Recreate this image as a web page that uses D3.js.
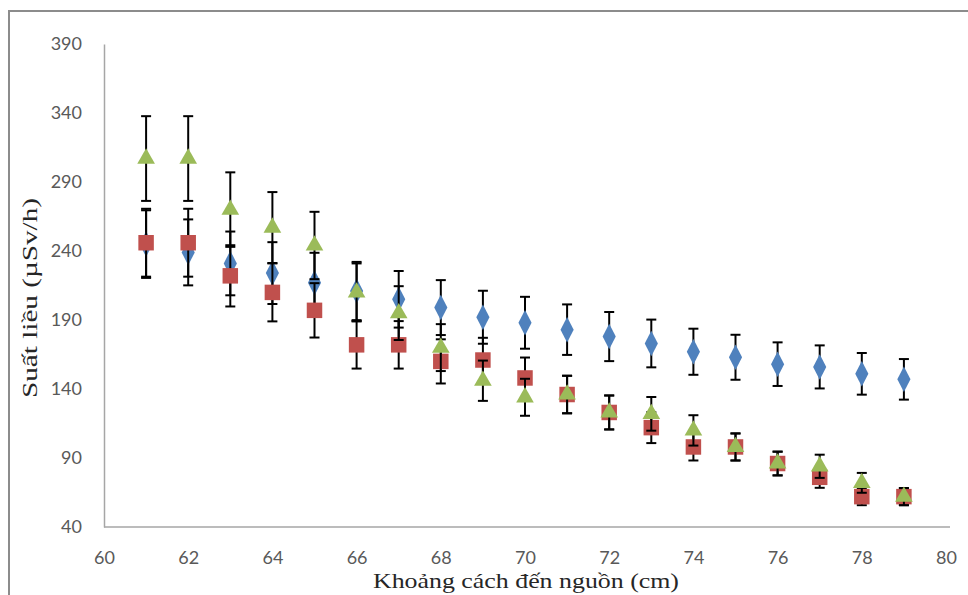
<!DOCTYPE html>
<meta charset="utf-8">
<style>
    body { margin: 0; background: #fff; }
    .tick-label { font-family: Lato, "Open Sans", sans-serif; font-size: 18px; fill: #595959; }
    .axis-title { font-family: "Liberation Serif", "DejaVu Serif", serif; fill: #262626; }
</style>
<body>
<script src="https://cdn.jsdelivr.net/npm/d3@7"></script>
<script>
    /* data */
    var distance = [61, 62, 63, 64, 65, 66, 67, 68, 69, 70, 71, 72, 73, 74, 75, 76, 77, 78, 79];
    var series1 = [245, 239, 231, 224, 217, 211, 205, 199, 192, 188, 183, 178, 173, 167, 163, 158, 156, 151, 147];
    var series2 = [246, 246, 222, 210, 197, 172, 172, 160, 161, 148, 136, 123, 112, 98, 98, 86, 76, 62, 62];
    var series3 = [307, 307, 270, 257, 244, 210, 195, 170, 146, 134, 136, 123, 122, 110, 98, 86, 84, 72, 62];
    var errorPercent = 10; // Excel style percentage error bars

    var xTicks = [60, 62, 64, 66, 68, 70, 72, 74, 76, 78, 80];
    var yTicks = [40, 90, 140, 190, 240, 290, 340, 390];

    var w = 968, h = 595;

    var svg = d3.select("body").append("svg")
        .attr("width", w)
        .attr("height", h);

    /* chart frame */
    svg.append("rect")
        .attr("x", 9).attr("y", 11)
        .attr("width", 1000).attr("height", 700)
        .attr("fill", "none")
        .attr("stroke", "#8c8c8c")
        .attr("stroke-width", 2);

    var xScale = d3.scaleLinear().domain([60, 80]).range([104, 946]);
    var yScale = d3.scaleLinear().domain([40, 390]).range([527, 44]);

    // axes without tick marks
    var xAxis = d3.axisBottom(xScale).tickValues(xTicks).tickSize(0).tickPadding(24);
    var yAxis = d3.axisLeft(yScale).tickValues(yTicks).tickSize(0).tickPadding(22);

    var gx = svg.append("g")
        .attr("transform", "translate(0," + yScale(40) + ")")
        .call(xAxis);
    var gy = svg.append("g")
        .attr("transform", "translate(" + xScale(60) + ",0)")
        .call(yAxis);

    [gx, gy].forEach(function (g) {
        g.select(".domain").attr("stroke", "#a6a6a6").attr("stroke-width", 1.5);
        g.selectAll("text").attr("class", "tick-label").attr("font-size", null).attr("font-family", null).attr("fill", null);
    });
    gx.select(".domain").attr("d", "M104,0H950");

    var series = [
        { values: series1, color: "#4f81bd", shape: "diamond" },
        { values: series2, color: "#c0504d", shape: "square" },
        { values: series3, color: "#9bbb59", shape: "triangle" }
    ];

    var symbols = {
        diamond: d3.symbol().type(d3.symbolDiamond).size(150),
        square: d3.symbol().type(d3.symbolSquare).size(240),
        triangle: d3.symbol().type(d3.symbolTriangle).size(135)
    };

    series.forEach(function (s) {
        var pts = distance.map(function (d, i) {
            return { x: d, y: s.values[i], e: s.values[i] * errorPercent / 100 };
        });
        var g = svg.append("g");

        // error bars
        var eb = g.selectAll(".err").data(pts).enter().append("g")
            .attr("stroke", "#000").attr("stroke-width", 2);
        eb.append("line")
            .attr("x1", function (d) { return xScale(d.x); })
            .attr("x2", function (d) { return xScale(d.x); })
            .attr("y1", function (d) { return yScale(d.y - d.e); })
            .attr("y2", function (d) { return yScale(d.y + d.e); });
        eb.append("line")
            .attr("x1", function (d) { return xScale(d.x) - 5; })
            .attr("x2", function (d) { return xScale(d.x) + 5; })
            .attr("y1", function (d) { return yScale(d.y + d.e); })
            .attr("y2", function (d) { return yScale(d.y + d.e); });
        eb.append("line")
            .attr("x1", function (d) { return xScale(d.x) - 5; })
            .attr("x2", function (d) { return xScale(d.x) + 5; })
            .attr("y1", function (d) { return yScale(d.y - d.e); })
            .attr("y2", function (d) { return yScale(d.y - d.e); });

        // markers
        g.selectAll(".mark").data(pts).enter().append("path")
            .attr("d", symbols[s.shape])
            .attr("transform", function (d) {
                var sy = s.shape === "diamond" ? 1.12 : 1;
                return "translate(" + xScale(d.x) + "," + yScale(d.y) + ") scale(1," + sy + ")";
            })
            .attr("fill", s.color);
    });

    /* axis titles */
    svg.append("text")
        .attr("class", "axis-title")
        .attr("x", 526).attr("y", 588)
        .attr("text-anchor", "middle")
        .attr("font-size", 22)
        .attr("textLength", 306)
        .attr("lengthAdjust", "spacingAndGlyphs")
        .text("Khoảng cách đến nguồn (cm)");

    svg.append("text")
        .attr("class", "axis-title")
        .attr("transform", "translate(37,298) rotate(-90)")
        .attr("text-anchor", "middle")
        .attr("font-size", 21)
        .attr("textLength", 200)
        .attr("lengthAdjust", "spacingAndGlyphs")
        .text("Suất liều (µSv/h)");
</script>
</body>
